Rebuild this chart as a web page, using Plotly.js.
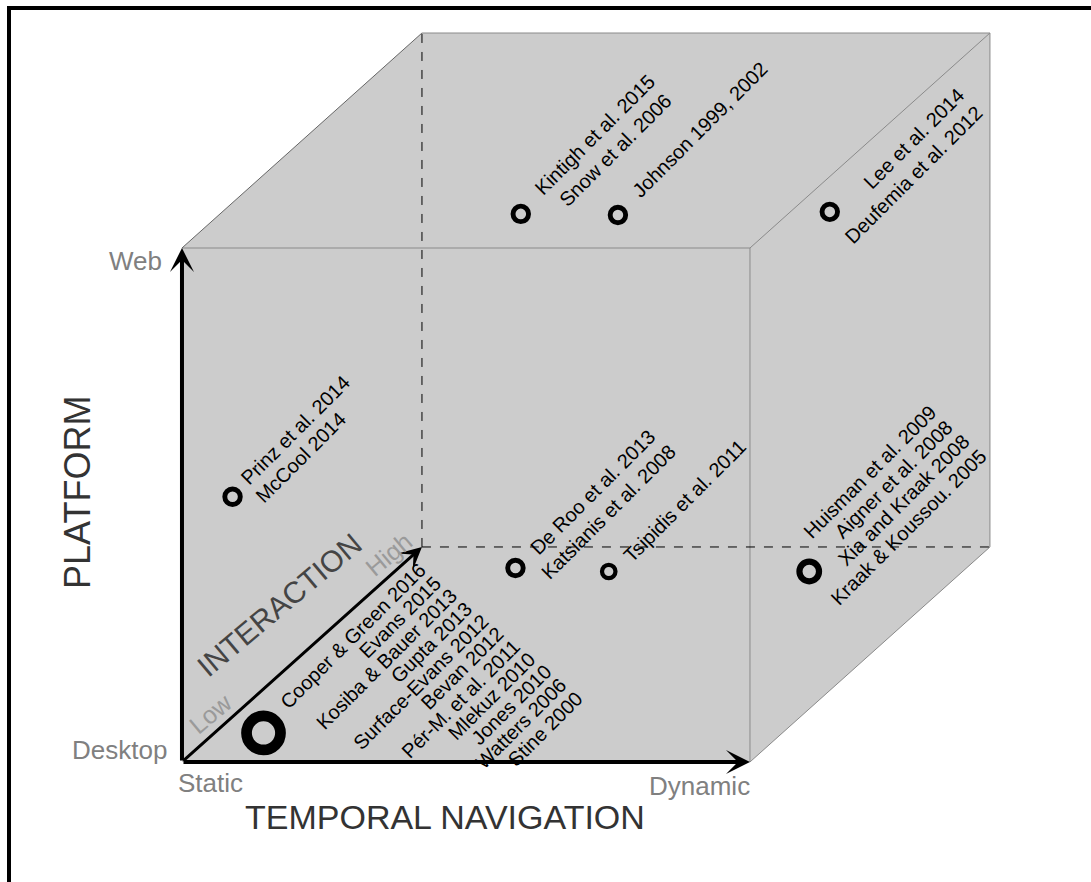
<!DOCTYPE html>
<html>
<head>
<meta charset="utf-8">
<script src="https://cdn.plot.ly/plotly-3.0.1.min.js"></script>
<style>
  html, body { margin: 0; padding: 0; background: #ffffff; }
  #chart { width: 1091px; height: 882px; }
</style>
</head>
<body>
<div id="chart"></div>
<script>
// ------------------------- DATA -------------------------
const studyGroups = [
  ["Kintigh et al. 2015", "Snow et al. 2006"],
  ["Johnson 1999, 2002"],
  ["Lee et al. 2014", "Deufemia et al. 2012"],
  ["Prinz et al. 2014", "McCool 2014"],
  ["De Roo et al. 2013", "Katsianis et al. 2008"],
  ["Tsipidis et al. 2011"],
  ["Huisman et al. 2009", "Aigner et al. 2008", "Xia and Kraak 2008", "Kraak & Koussou. 2005"],
  ["Cooper & Green 2016", "Evans 2015", "Kosiba & Bauer 2013", "Gupta 2013", "Surface-Evans 2012",
   "Bevan 2012", "Pér-M. et al. 2011", "Mlekuz 2010", "Jones 2010", "Watters 2006", "Stine 2000"]
];
const paperCounts      = [2, 2, 2, 2, 2, 1, 4, 11];
// position of each group inside the cube (0 = Static/Low/Desktop, 1 = Dynamic/High/Web)
const temporalScore    = [0.174, 0.345, 0.718, 0.089, 0.206, 0.377, 0.730, 0.0865];
const interactionScore = [1.000, 1.000, 1.000, 0.000, 0.902, 0.886, 0.886, 0.135];
const platformScore    = [0.648, 0.646, 0.652, 0.516, 0.000, 0.000, 0.000, 0.000];

const temporalTicks    = ["Static", "Dynamic"];
const interactionTicks = ["Low", "High"];
const platformTicks    = ["Desktop", "Web"];
const axisTitles       = ["TEMPORAL NAVIGATION", "INTERACTION", "PLATFORM"];

// ------------------------- STYLE / GEOMETRY -------------------------
const W = 1091, H = 882;
const DX = 0.4225, DY = 0.4183;           // depth (interaction) direction of the oblique cube
const XR = [-0.3204, 1.6004], YR = [-0.2335, 1.4825];

// label placement (pixel offsets of first line's anchor from the circle, and per-line step)
const labelOffset = [[141,-146],[156,-160],[141,-130],[1,-5],[147,-146],[144,-139],[134,-173],[169,-177]];
const labelStep   = [[17,19],[0,0],[18.4,16.7],[15.5,18],[20,15.3],[0,0],[16.7,14.4],[15.7,12.8]];
const labelLeft   = [false,false,false,true,false,false,false,false];

function proj(t, i, p) { return [t + i * DX, p + i * DY]; }

const px = [], py = [];
for (let k = 0; k < paperCounts.length; k++) {
  const q = proj(temporalScore[k], interactionScore[k], platformScore[k]);
  px.push(q[0]); py.push(q[1]);
}
const ringW = paperCounts.map(n => 3.6 + 0.65 * n);
const outerD = paperCounts.map(n => 15 + 2.7 * n);
const markerSize = outerD.map((d, k) => d - ringW[k]);

const circles = {
  type: 'scatter', mode: 'markers', x: px, y: py,
  marker: { symbol: 'circle-open', color: '#000', opacity: 1, size: markerSize,
            line: { width: ringW, color: '#000' } },
  hoverinfo: 'skip', showlegend: false
};

// ---- shapes: cube ----
const edge = { color: '#8a8a8a', width: 1 };
function seg(a, b, line) {
  return { type: 'line', xref: 'x', yref: 'y', x0: a[0], y0: a[1], x1: b[0], y1: b[1], line: line, layer: 'below' };
}
const fBL = [0,0], fBR = [1,0], fTL = [0,1], fTR = [1,1];
const bBL = [DX,DY], bBR = [1+DX,DY], bTL = [DX,1+DY], bTR = [1+DX,1+DY];
const shapes = [
  { type: 'path', xref: 'x', yref: 'y', layer: 'below',
    path: `M${fBL[0]},${fBL[1]} L${fBR[0]},${fBR[1]} L${bBR[0]},${bBR[1]} L${bTR[0]},${bTR[1]} L${bTL[0]},${bTL[1]} L${fTL[0]},${fTL[1]} Z`,
    fillcolor: '#cccccc', line: { width: 0 } },
  seg(fTL, fTR, edge), seg(fTR, fBR, edge),
  seg(fTL, bTL, { color: '#666', width: 1 }), seg(bTL, bTR, edge), seg(fTR, bTR, edge),
  seg(bTR, bBR, edge), seg(fBR, bBR, edge),
  seg(bBL, bTL, { color: '#000', width: 1, dash: 'dash' }),
  seg(bBL, bBR, { color: '#000', width: 1, dash: 'dash' }),
  // outer frame (top and left)
  { type: 'line', xref: 'paper', yref: 'paper', x0: 7/W, x1: 1, y0: 1 - 8/H, y1: 1 - 8/H, line: { color: '#000', width: 4 } },
  { type: 'line', xref: 'paper', yref: 'paper', x0: 9/W, x1: 9/W, y0: 0, y1: 1 - 6/H, line: { color: '#000', width: 4 } }
];

// ---- annotations ----
const annotations = [];
const labelFont = { family: 'Liberation Sans, Arial, sans-serif', size: 20, color: '#000' };
studyGroups.forEach((lines, g) => {
  lines.forEach((txt, k) => {
    annotations.push({
      xref: 'x', yref: 'y', x: px[g], y: py[g], text: txt, showarrow: false,
      textangle: -45, font: labelFont,
      xanchor: labelLeft[g] ? 'left' : 'right', yanchor: labelLeft[g] ? 'bottom' : 'top',
      xshift: labelOffset[g][0] + k * labelStep[g][0],
      yshift: -(labelOffset[g][1] + k * labelStep[g][1])
    });
  });
});

// axis arrows
const arrowBase = { xref: 'x', yref: 'y', axref: 'x', ayref: 'y', showarrow: true, text: '',
                    arrowcolor: '#000', arrowhead: 3, standoff: 0 };
annotations.push(Object.assign({}, arrowBase, { x: 0, y: 1, ax: 0, ay: 0, arrowwidth: 4, arrowsize: 1 }));
annotations.push(Object.assign({}, arrowBase, { x: 1, y: 0, ax: 0, ay: 0, arrowwidth: 4, arrowsize: 1 }));
annotations.push(Object.assign({}, arrowBase, { x: DX, y: DY, ax: 0, ay: 0, arrowwidth: 3, arrowsize: 1.25 }));

const endFont = { family: 'Liberation Sans, Arial, sans-serif', size: 26, color: '#808080' };
const lohiFont = { family: 'Liberation Sans, Arial, sans-serif', size: 25, color: '#9a9a9a' };
function tag(text, x, y, dx, dy, font, angle) {
  annotations.push({ xref: 'x', yref: 'y', x: x, y: y, text: text, showarrow: false,
    xanchor: 'center', yanchor: 'middle', xshift: dx, yshift: -dy, font: font, textangle: angle || 0 });
}
tag(temporalTicks[0], 0, 0, 29, 21, endFont);
tag(temporalTicks[1], 1, 0, -50, 24, endFont);
tag(platformTicks[0], 0, 0, -62, -12, endFont);
tag(platformTicks[1], 0, 1, -46, 13, endFont);
tag(interactionTicks[0], 0, 0, 29, -49, lohiFont, -40);
tag(interactionTicks[1], DX, DY, -33, 7, lohiFont, -40);
tag(axisTitles[0], 0.5, 0, -21, 55, { family: 'Liberation Sans, Arial, sans-serif', size: 34, color: '#333' });
tag(axisTitles[1], DX / 2, DY / 2, -22, -49.5, { family: 'Liberation Sans, Arial, sans-serif', size: 30, color: '#444' }, -40);
tag(axisTitles[2], 0, 0.5, -104, -13, { family: 'Liberation Sans, Arial, sans-serif', size: 36, color: '#333' }, -90);

const hidden = { visible: false, showgrid: false, zeroline: false, showticklabels: false, fixedrange: true };
const layout = {
  width: W, height: H, margin: { l: 0, r: 0, t: 0, b: 0, pad: 0 },
  paper_bgcolor: '#fff', plot_bgcolor: '#fff', showlegend: false,
  xaxis: Object.assign({}, hidden, { range: XR }),
  yaxis: Object.assign({}, hidden, { range: YR }),
  shapes: shapes, annotations: annotations
};
Plotly.newPlot('chart', [circles], layout, { staticPlot: true, displayModeBar: false });
</script>
</body>
</html>
